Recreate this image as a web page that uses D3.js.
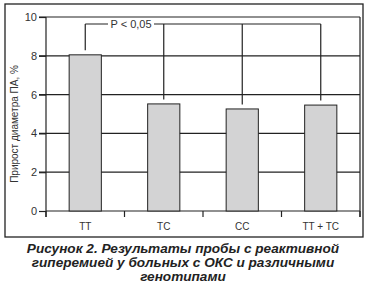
<!DOCTYPE html>
<html>
<head>
<meta charset="utf-8">
<script src="https://cdn.jsdelivr.net/npm/d3@7"></script>
<style>
  body { margin: 0; background: #fff; }
  svg { display: block; }
</style>
</head>
<body>
<svg id="chart" width="367" height="287"></svg>
<script>
let genotypes = ["TT", "TC", "CC", "TT + TC"];
let growth = [8.05, 5.52, 5.26, 5.46];
let yTicks = [0, 2, 4, 6, 8, 10];
let pLabel = "P < 0,05";
let yTitle = "Прирост диаметра ПА, %";
let caption = [
    "Рисунок 2. Результаты пробы с реактивной",
    "гиперемией у больных с ОКС и различными",
    "генотипами"
];

let svg = d3.select("#chart");
let ink = "#222";
let margin = {left: 46, right: 360, top: 17, bottom: 211};

// outer frame
svg.append("rect")
    .attr("x", 5).attr("y", 4)
    .attr("width", 358).attr("height", 233)
    .attr("fill", "none").attr("stroke", ink).attr("stroke-width", 1.3);

let x = d3.scaleBand()
    .domain(genotypes)
    .range([margin.left, margin.right])
    .paddingInner(0.59)
    .paddingOuter(0.295);

let y = d3.scaleLinear()
    .domain([0, 10])
    .range([margin.bottom, margin.top]);

// gridlines
svg.append("g")
    .selectAll("line")
    .data(yTicks.filter(d => d > 0))
    .join("line")
    .attr("x1", margin.left - 7)
    .attr("x2", margin.right)
    .attr("y1", d => y(d))
    .attr("y2", d => y(d))
    .attr("stroke", ink)
    .attr("stroke-width", 1.2);

// right edge of plot
svg.append("line")
    .attr("x1", margin.right).attr("x2", margin.right)
    .attr("y1", margin.top).attr("y2", margin.bottom + 6)
    .attr("stroke", ink).attr("stroke-width", 1.2);

// y axis
let yAxis = svg.append("g")
    .attr("transform", `translate(${margin.left},0)`)
    .call(d3.axisLeft(y).tickValues(yTicks).tickSize(7).tickPadding(2));
yAxis.select(".domain").attr("stroke", ink).attr("stroke-width", 1.2)
    .attr("d", `M0,${margin.top}V${margin.bottom + 6}`);
yAxis.selectAll(".tick line").attr("stroke", ink).attr("stroke-width", 1.2);
yAxis.selectAll(".tick text")
    .attr("font-family", "Liberation Sans, Arial, sans-serif")
    .attr("font-size", 11).attr("fill", "#333");

// x axis with boundary ticks between bands
let step = x.step();
let bounds = d3.range(genotypes.length + 1).map(i => margin.left + i * step);
svg.append("line")
    .attr("x1", margin.left).attr("x2", margin.right)
    .attr("y1", margin.bottom).attr("y2", margin.bottom)
    .attr("stroke", ink).attr("stroke-width", 1.2);
svg.append("g")
    .selectAll("line")
    .data(bounds)
    .join("line")
    .attr("x1", d => d).attr("x2", d => d)
    .attr("y1", margin.bottom).attr("y2", margin.bottom + 6)
    .attr("stroke", ink).attr("stroke-width", 1.2);

svg.append("g")
    .selectAll("text")
    .data(genotypes)
    .join("text")
    .attr("x", d => x(d) + x.bandwidth() / 2)
    .attr("y", 230)
    .attr("text-anchor", "middle")
    .attr("font-family", "Liberation Sans, Arial, sans-serif")
    .attr("font-size", 10).attr("fill", "#333")
    .text(d => d);

// bars
svg.append("g")
    .selectAll("rect")
    .data(genotypes)
    .join("rect")
    .attr("x", d => x(d))
    .attr("y", (d, i) => y(growth[i]))
    .attr("width", x.bandwidth())
    .attr("height", (d, i) => y(0) - y(growth[i]))
    .attr("fill", "#d3d3d4")
    .attr("stroke", ink)
    .attr("stroke-width", 1);

// significance bracket
let bracketY = 24;
let cx = d => x(d) + x.bandwidth() / 2;
let firstX = cx(genotypes[0]);
let lastX = cx(genotypes[genotypes.length - 1]);
let pX = 131;
svg.append("path")
    .attr("d", `M${firstX},${bracketY}H${pX - 23}M${pX + 23},${bracketY}H${lastX}`)
    .attr("fill", "none").attr("stroke", ink).attr("stroke-width", 1.2);
svg.append("g")
    .selectAll("line")
    .data(genotypes)
    .join("line")
    .attr("x1", d => cx(d)).attr("x2", d => cx(d))
    .attr("y1", bracketY)
    .attr("y2", (d, i) => y(growth[i]) - 4.5)
    .attr("stroke", ink).attr("stroke-width", 1.2);
svg.append("text")
    .attr("x", pX).attr("y", bracketY + 4)
    .attr("text-anchor", "middle")
    .attr("font-family", "Liberation Sans, Arial, sans-serif")
    .attr("font-size", 11).attr("fill", "#333")
    .text(pLabel);

// y title
svg.append("text")
    .attr("transform", `translate(18,${(margin.top + margin.bottom) / 2 + 10}) rotate(-90)`)
    .attr("text-anchor", "middle")
    .attr("font-family", "Liberation Sans, Arial, sans-serif")
    .attr("font-size", 10).attr("fill", "#333")
    .text(yTitle);

// caption
svg.append("g")
    .selectAll("text")
    .data(caption)
    .join("text")
    .attr("x", 183)
    .attr("y", (d, i) => 253 + i * 14)
    .attr("text-anchor", "middle")
    .attr("font-family", "Liberation Sans, Arial, sans-serif")
    .attr("font-size", 13.6)
    .attr("font-weight", "bold")
    .attr("font-style", "italic")
    .attr("fill", "#222")
    .text(d => d);
</script>
</body>
</html>
